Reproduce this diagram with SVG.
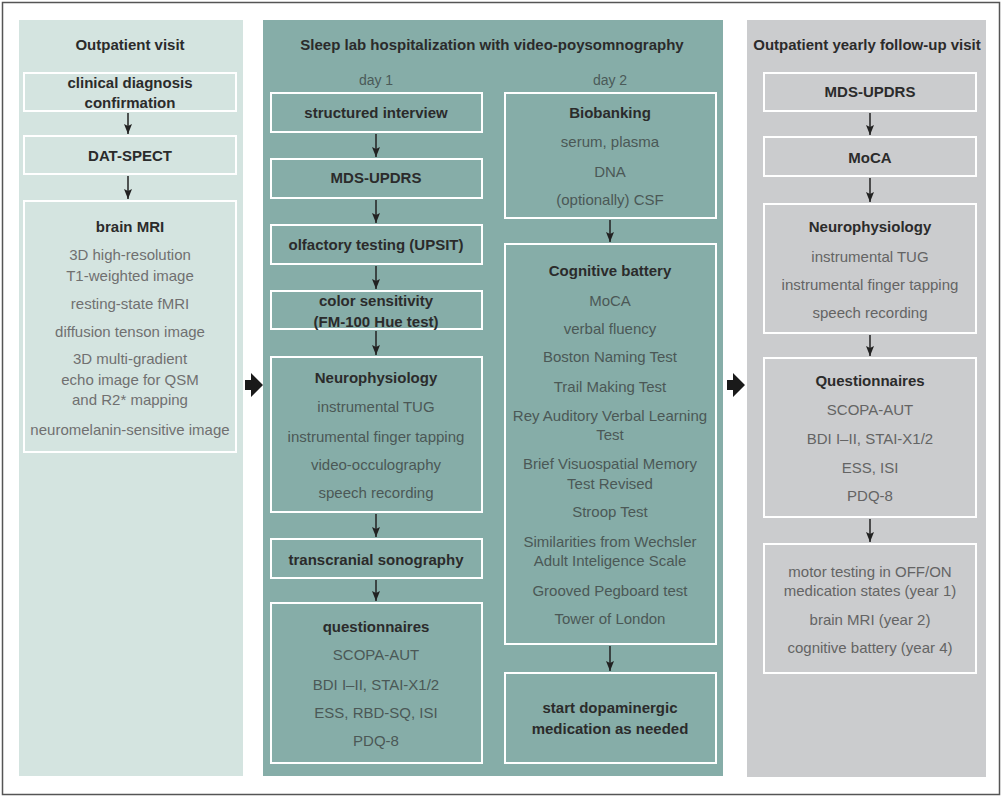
<svg xmlns="http://www.w3.org/2000/svg" width="1005" height="800" viewBox="0 0 1005 800">
<defs>
<marker id="ah" viewBox="0 0 10 8" refX="10" refY="4" markerWidth="10" markerHeight="8" markerUnits="userSpaceOnUse" orient="auto">
<path d="M0,0 L10,4 L0,8 L2,4 z" fill="#222"/>
</marker>
<style>
text{font-family:"Liberation Sans",Arial,sans-serif;font-size:15px;text-anchor:middle}
.h{font-weight:bold;fill:#2b2b2b}
.l{fill:#707070}
.m{fill:#4b5856}
.r{fill:#646464}
.d{font-size:14px;fill:#4a5a58}
.box{fill:none;stroke:#ffffff;stroke-width:2}
.c{stroke:#222;stroke-width:1.5;fill:none;marker-end:url(#ah)}
.big{fill:#1a1a1a}
</style>
</defs>
<rect x="2.5" y="2.5" width="997" height="792" fill="#ffffff" stroke="#555" stroke-width="1.5"/>

<g id="panel-outpatient">
<rect x="19" y="20" width="224" height="756" fill="#d4e4e0"/>
<text class="h" x="130" y="50">Outpatient visit</text>
</g>
<g id="panel-sleeplab">
<rect x="263" y="20" width="460" height="756" fill="#86ada8"/>
<text class="h" x="492" y="50">Sleep lab hospitalization with video-poysomnography</text>
<text class="d" x="376" y="85">day 1</text>
<text class="d" x="610" y="85">day 2</text>
</g>
<g id="panel-followup">
<rect x="747" y="20" width="239" height="757" fill="#cbccce"/>
<text class="h" x="867" y="50">Outpatient yearly follow-up visit</text>
</g>

<!-- left column -->
<g id="n-clinical">
<rect class="box" x="24" y="73" width="212" height="38"/>
<text class="h" x="130" y="88">clinical diagnosis</text>
<text class="h" x="130" y="108">confirmation</text>
</g>
<g id="n-datspect">
<rect class="box" x="24" y="136" width="212" height="38"/>
<text class="h" x="130" y="161">DAT-SPECT</text>
</g>
<g id="n-brainmri">
<rect class="box" x="24" y="201" width="212" height="251"/>
<text class="h" x="130" y="232">brain MRI</text>
<text class="l" x="130" y="260">3D high-resolution</text>
<text class="l" x="130" y="281">T1-weighted image</text>
<text class="l" x="130" y="309">resting-state fMRI</text>
<text class="l" x="130" y="337">diffusion tenson image</text>
<text class="l" x="130" y="364">3D multi-gradient</text>
<text class="l" x="130" y="385">echo image for QSM</text>
<text class="l" x="130" y="405">and R2* mapping</text>
<text class="l" x="130" y="435">neuromelanin-sensitive image</text>
</g>

<!-- day 1 -->
<g id="n-interview">
<rect class="box" x="271" y="93" width="211" height="39"/>
<text class="h" x="376" y="118">structured interview</text>
</g>
<g id="n-mdsupdrs1">
<rect class="box" x="271" y="159" width="211" height="39"/>
<text class="h" x="376" y="183">MDS-UPDRS</text>
</g>
<g id="n-olfactory">
<rect class="box" x="271" y="225" width="211" height="39"/>
<text class="h" x="376" y="250">olfactory testing (UPSIT)</text>
</g>
<g id="n-color">
<rect class="box" x="271" y="291" width="211" height="38"/>
<text class="h" x="376" y="306">color sensitivity</text>
<text class="h" x="376" y="327">(FM-100 Hue test)</text>
</g>
<g id="n-neuro1">
<rect class="box" x="271" y="357" width="211" height="155"/>
<text class="h" x="376" y="383">Neurophysiology</text>
<text class="m" x="376" y="412">instrumental TUG</text>
<text class="m" x="376" y="442">instrumental finger tapping</text>
<text class="m" x="376" y="470">video-occulography</text>
<text class="m" x="376" y="498">speech recording</text>
</g>
<g id="n-sonography">
<rect class="box" x="271" y="539" width="211" height="39"/>
<text class="h" x="376" y="565">transcranial sonography</text>
</g>
<g id="n-quest1">
<rect class="box" x="271" y="603" width="211" height="160"/>
<text class="h" x="376" y="632">questionnaires</text>
<text class="m" x="376" y="660">SCOPA-AUT</text>
<text class="m" x="376" y="690">BDI I–II, STAI-X1/2</text>
<text class="m" x="376" y="718">ESS, RBD-SQ, ISI</text>
<text class="m" x="376" y="746">PDQ-8</text>
</g>

<!-- day 2 -->
<g id="n-biobanking">
<rect class="box" x="505" y="93" width="211" height="125"/>
<text class="h" x="610" y="118">Biobanking</text>
<text class="m" x="610" y="147">serum, plasma</text>
<text class="m" x="610" y="177">DNA</text>
<text class="m" x="610" y="205">(optionally) CSF</text>
</g>
<g id="n-cognitive">
<rect class="box" x="505" y="244" width="211" height="400"/>
<text class="h" x="610" y="276">Cognitive battery</text>
<text class="m" x="610" y="306">MoCA</text>
<text class="m" x="610" y="334">verbal fluency</text>
<text class="m" x="610" y="362">Boston Naming Test</text>
<text class="m" x="610" y="392">Trail Making Test</text>
<text class="m" x="610" y="421">Rey Auditory Verbal Learning</text>
<text class="m" x="610" y="440">Test</text>
<text class="m" x="610" y="469">Brief Visuospatial Memory</text>
<text class="m" x="610" y="489">Test Revised</text>
<text class="m" x="610" y="517">Stroop Test</text>
<text class="m" x="610" y="547">Similarities from Wechsler</text>
<text class="m" x="610" y="566">Adult Inteligence Scale</text>
<text class="m" x="610" y="596">Grooved Pegboard test</text>
<text class="m" x="610" y="624">Tower of London</text>
</g>
<g id="n-dopaminergic">
<rect class="box" x="505" y="673" width="211" height="90"/>
<text class="h" x="610" y="713">start dopaminergic</text>
<text class="h" x="610" y="734">medication as needed</text>
</g>

<!-- right column -->
<g id="n-mdsupdrs2">
<rect class="box" x="764" y="73" width="212" height="38"/>
<text class="h" x="870" y="97">MDS-UPDRS</text>
</g>
<g id="n-moca">
<rect class="box" x="764" y="137" width="212" height="39"/>
<text class="h" x="870" y="163">MoCA</text>
</g>
<g id="n-neuro2">
<rect class="box" x="764" y="204" width="212" height="129"/>
<text class="h" x="870" y="232">Neurophysiology</text>
<text class="r" x="870" y="262">instrumental TUG</text>
<text class="r" x="870" y="290">instrumental finger tapping</text>
<text class="r" x="870" y="318">speech recording</text>
</g>
<g id="n-quest2">
<rect class="box" x="764" y="358" width="212" height="159"/>
<text class="h" x="870" y="386">Questionnaires</text>
<text class="r" x="870" y="415">SCOPA-AUT</text>
<text class="r" x="870" y="444">BDI I–II, STAI-X1/2</text>
<text class="r" x="870" y="473">ESS, ISI</text>
<text class="r" x="870" y="501">PDQ-8</text>
</g>
<g id="n-yearly">
<rect class="box" x="764" y="544" width="212" height="129"/>
<text class="r" x="870" y="577">motor testing in OFF/ON</text>
<text class="r" x="870" y="596">medication states (year 1)</text>
<text class="r" x="870" y="625">brain MRI (year 2)</text>
<text class="r" x="870" y="653">cognitive battery (year 4)</text>
</g>

<g id="connectors">
<path class="c" d="M128,113 V134"/>
<path class="c" d="M128,176 V199"/>
<path class="c" d="M376,134 V157"/>
<path class="c" d="M376,200 V223"/>
<path class="c" d="M376,266 V289"/>
<path class="c" d="M376,331 V355"/>
<path class="c" d="M376,514 V537"/>
<path class="c" d="M376,580 V601"/>
<path class="c" d="M610,220 V242"/>
<path class="c" d="M610,646 V671"/>
<path class="c" d="M870,113 V135"/>
<path class="c" d="M870,178 V202"/>
<path class="c" d="M870,335 V356"/>
<path class="c" d="M870,519 V542"/>
<polygon class="big" points="245,380 251,380 251,373 263,385 251,397 251,390 245,390"/>
<polygon class="big" points="727,380 733,380 733,373 745,385 733,397 733,390 727,390"/>
</g>
</svg>
